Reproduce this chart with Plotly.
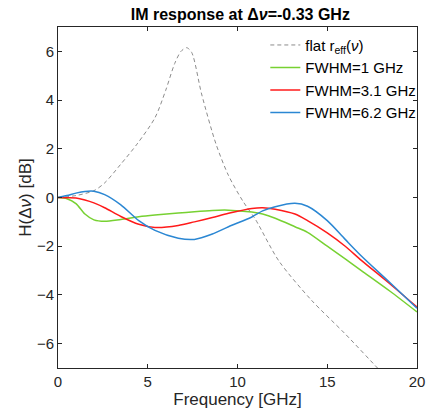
import plotly.graph_objects as go

# Frequency samples and response values (GHz, dB)
flat_x = [0, 1, 2, 2.6, 3.5, 4.4, 5.4, 6.0, 6.5, 6.85, 7.17, 7.45, 8.0, 8.8, 9.5, 10.3, 11.0, 12.3, 14.1, 16.0, 17.8, 18.2]
flat_y = [0, 0.08, 0.28, 0.6, 1.37, 2.19, 3.27, 4.4, 5.5, 6.0, 6.15, 5.95, 4.25, 2.2, 0.9, -0.15, -0.9, -2.6, -4.2, -5.6, -7.0, -7.3]

fwhm_x = [0, 0.5, 1.0, 1.5, 2.0, 2.6, 3.5, 4.5, 5.4, 6.7, 7.6, 8.6, 9.5, 10.8, 11.4, 12.1, 13.2, 13.9, 15.0, 16.0, 16.9, 18.5, 20.0]
fwhm1_y = [0, -0.05, -0.25, -0.68, -0.92, -0.98, -0.9, -0.79, -0.72, -0.64, -0.58, -0.53, -0.52, -0.6, -0.68, -0.85, -1.2, -1.43, -2.0, -2.52, -3.0, -3.85, -4.7]
fwhm3_y = [0, -0.01, -0.02, -0.1, -0.22, -0.42, -0.78, -1.1, -1.23, -1.15, -1.0, -0.82, -0.65, -0.45, -0.42, -0.48, -0.68, -0.95, -1.45, -2.0, -2.58, -3.55, -4.5]
fwhm6_y = [0, 0.08, 0.18, 0.25, 0.26, 0.12, -0.3, -0.95, -1.35, -1.67, -1.72, -1.5, -1.2, -0.8, -0.55, -0.38, -0.24, -0.36, -0.95, -1.72, -2.4, -3.5, -4.55]

font_name = "Liberation Sans, Arial, sans-serif"

fig = go.Figure()

fig.add_trace(go.Scatter(
    x=flat_x, y=flat_y, mode="lines", line_shape="spline",
    name="flat r<sub>eff</sub>(<i>ν</i>)",
    line=dict(color="#8c8c8c", width=1, dash="4px,3px", smoothing=0.8),
))
fig.add_trace(go.Scatter(
    x=fwhm_x, y=fwhm1_y, mode="lines", line_shape="spline",
    name="FWHM=1 GHz", line=dict(color="#77d132", width=1.5, smoothing=0.8),
))
fig.add_trace(go.Scatter(
    x=fwhm_x, y=fwhm3_y, mode="lines", line_shape="spline",
    name="FWHM=3.1 GHz", line=dict(color="#ff1a1a", width=1.5, smoothing=0.8),
))
fig.add_trace(go.Scatter(
    x=fwhm_x, y=fwhm6_y, mode="lines", line_shape="spline",
    name="FWHM=6.2 GHz", line=dict(color="#2b87d3", width=1.5, smoothing=0.8),
))

axis_style = dict(
    showline=True, mirror="ticks", linecolor="#262626", linewidth=1,
    ticks="inside", ticklen=4, tickcolor="#262626",
    showgrid=False, zeroline=False, automargin=False,
    tickfont=dict(family=font_name, size=15, color="#262626"),
)

fig.update_layout(
    width=433, height=418,
    margin=dict(l=58, r=13, t=27, b=50),
    paper_bgcolor="white", plot_bgcolor="white",
    font=dict(family=font_name, color="#262626"),
    title=dict(
        text="<b>IM response at Δ<i>ν</i>=-0.33 GHz</b>",
        x=0.555, xanchor="center", y=0.966, yanchor="middle",
        font=dict(family=font_name, size=16, color="black"),
    ),
    xaxis=dict(
        range=[0, 20], tickvals=[0, 5, 10, 15, 20],
        title=dict(text="Frequency [GHz]", font=dict(family=font_name, size=17), standoff=4),
        **axis_style,
    ),
    yaxis=dict(
        range=[-7, 7], tickvals=[-6, -4, -2, 0, 2, 4, 6],
        title=dict(text="H(Δ<i>ν</i>) [dB]", font=dict(family=font_name, size=17), standoff=0),
        **axis_style,
    ),
    legend=dict(
        x=1.012, y=0.995, xanchor="right", yanchor="top",
        bgcolor="rgba(255,255,255,0)", borderwidth=0,
        font=dict(family=font_name, size=15, color="black"),
        tracegroupgap=0, itemwidth=30,
    ),
    showlegend=True,
)

# 去掉頁面預設的 8px 邊距，讓圖與視窗左上角對齊；並隱藏工具列
fig.write_html(
    "out.html",
    config={"displayModeBar": False},
    post_script="document.body.style.margin='0';",
)
